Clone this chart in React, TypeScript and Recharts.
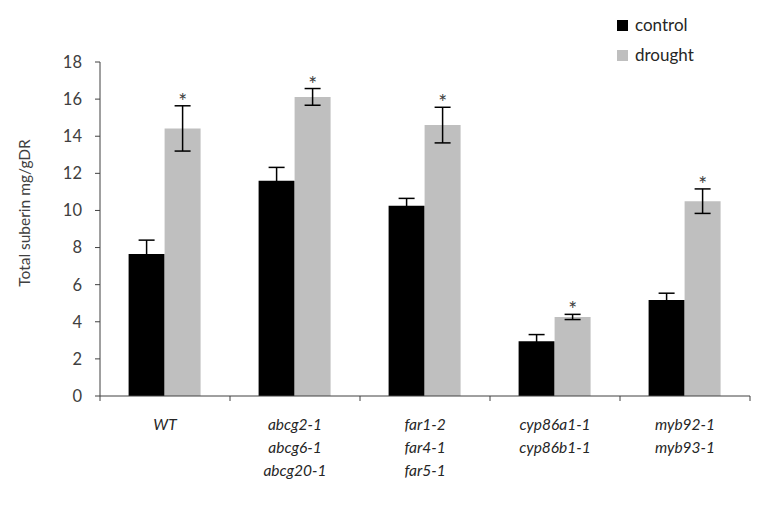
import { BarChart, Bar, XAxis, YAxis, ErrorBar, LabelList } from 'recharts';

const genotypes = [
  ['WT'],
  ['abcg2-1', 'abcg6-1', 'abcg20-1'],
  ['far1-2', 'far4-1', 'far5-1'],
  ['cyp86a1-1', 'cyp86b1-1'],
  ['myb92-1', 'myb93-1'],
];
const controlValues = [7.65, 11.6, 10.25, 2.95, 5.18];
const controlErrors = [0.75, 0.72, 0.4, 0.36, 0.36];
const droughtValues = [14.42, 16.12, 14.6, 4.26, 10.5];
const droughtErrors = [1.22, 0.45, 0.96, 0.14, 0.66];
const yTicks = [0, 2, 4, 6, 8, 10, 12, 14, 16, 18];

const data = genotypes.map((lines, i) => ({
  name: lines.join('|'),
  control: controlValues[i],
  controlErr: controlErrors[i],
  drought: droughtValues[i],
  droughtErr: droughtErrors[i],
}));

const FONT = 'Lato, "Open Sans", sans-serif';

function GenotypeTick(props: any) {
  const { x, y, payload, index, visibleTicksCount } = props;
  const half = payload.offset || 65;
  const lines = String(payload.value).split('|');
  return (
    <g>
      <line x1={x - half} y1={y} x2={x - half} y2={y + 5} stroke="#404040" />
      {index === visibleTicksCount - 1 && (
        <line x1={x + half} y1={y} x2={x + half} y2={y + 5} stroke="#404040" />
      )}
      <text textAnchor="middle" fontFamily={FONT} fontSize={15.5} fontStyle="italic" fill="#262626">
        {lines.map((l, i) => (
          <tspan key={i} x={x} y={y + 34 + i * 23}>
            {l}
          </tspan>
        ))}
      </text>
    </g>
  );
}

function Star(props: any) {
  const { x, y, width, height, value, index } = props;
  const err = droughtErrors[index];
  const top = y - (err * height) / value;
  return (
    <text x={x + width / 2} y={top + 3} textAnchor="middle" fontFamily={FONT} fontSize={21} fill="#404040">
      *
    </text>
  );
}

function YLabel(props: any) {
  const { viewBox } = props;
  const cx = 24;
  const cy = viewBox.y + viewBox.height / 2 - 16;
  return (
    <text
      x={cx}
      y={cy}
      transform={`rotate(-90, ${cx}, ${cy})`}
      textAnchor="middle"
      dominantBaseline="central"
      fontFamily={FONT}
      fontSize={15.5}
      fill="#404040"
    >
      Total suberin mg/gDR
    </text>
  );
}

export default function App() {
  return (
    <div style={{ position: 'relative', width: 760, height: 506, margin: -8, background: '#fff' }}>
      <BarChart
        width={760}
        height={506}
        data={data}
        margin={{ top: 62, right: 10, bottom: 0, left: 30 }}
        barCategoryGap="22%"
        barGap={0}
      >
        <XAxis
          dataKey="name"
          height={110}
          tickSize={0}
          tickMargin={0}
          tickLine={false}
          stroke="#404040"
          tick={<GenotypeTick />}
          interval={0}
        />
        <YAxis
          width={70}
          domain={[0, 18]}
          ticks={yTicks}
          tickSize={5}
          tickMargin={13}
          stroke="#404040"
          tick={{ fill: '#404040', fontSize: 16.5, fontFamily: FONT }}
          label={<YLabel />}
        />
        <Bar dataKey="control" fill="#000000" isAnimationActive={false}>
          <ErrorBar dataKey="controlErr" width={8} stroke="#000" strokeWidth={1.5} />
        </Bar>
        <Bar dataKey="drought" fill="#bfbfbf" isAnimationActive={false}>
          <ErrorBar dataKey="droughtErr" width={8} stroke="#000" strokeWidth={1.5} />
          <LabelList dataKey="drought" content={<Star />} />
        </Bar>
      </BarChart>
      <div style={{ position: 'absolute', left: 617, top: 10, fontFamily: FONT, fontSize: 17, color: '#262626', lineHeight: '30px' }}>
        {[
          ['control', '#000000'],
          ['drought', '#bfbfbf'],
        ].map(([label, color]) => (
          <div key={label} style={{ display: 'flex', alignItems: 'center' }}>
            <span style={{ display: 'inline-block', width: 11, height: 11, background: color, marginRight: 7 }} />
            {label}
          </div>
        ))}
      </div>
    </div>
  );
}
